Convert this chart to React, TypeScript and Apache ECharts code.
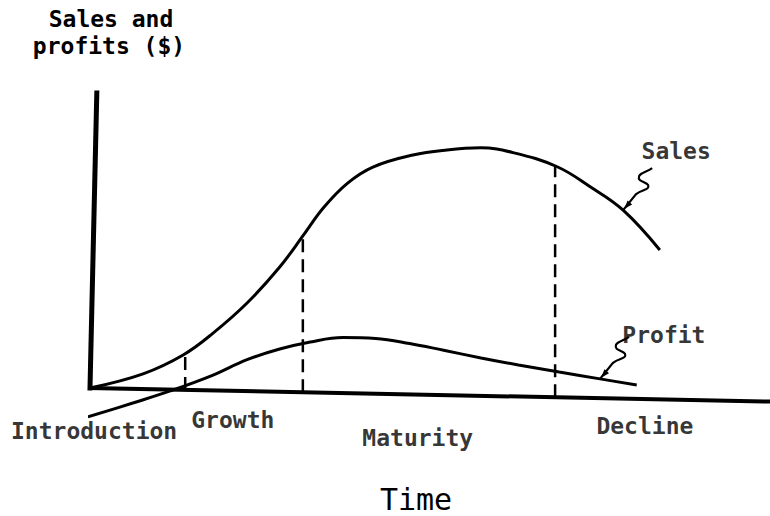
import React, { useEffect, useRef } from "react";
import * as echarts from "echarts";

// ---- data (time 0..100, value 0..100) ----
const salesTime = [0, 7.8, 13.7, 18.1, 23.1, 27.9, 31.6, 34.3, 37.8, 41.6, 47.5, 52.5, 57.4, 62.2, 68.7, 73.5, 78.4, 83.8];
const salesValue = [0, 4.8, 11.2, 18.6, 28.8, 41.0, 52.5, 61.0, 69.3, 74.9, 79.0, 80.7, 81.4, 79.8, 75.0, 68.3, 60.3, 46.8];

const profitTime = [-0.3, 6.3, 11.8, 18.1, 23.1, 27.9, 32.4, 37.2, 42.0, 47.0, 52.0, 57.5, 63.0, 69.0, 75.0, 80.4];
const profitValue = [-9.8, -5.1, -1.0, 4.4, 9.6, 13.2, 15.6, 17.1, 16.8, 15.1, 12.8, 10.2, 7.8, 5.4, 3.1, 1.0];

const phaseNames = ["Introduction", "Growth", "Maturity", "Decline"];
const phaseLabelTime = [0.6, 21.0, 48.2, 81.6];
const phaseLabelValue = [-14.7, -10.7, -16.9, -12.9];

const boundaryTime = [14.0, 31.3, 68.4];
const boundaryTop = [11.0, 52.0, 75.3];

const timeAxisStart = [0, 0];
const timeAxisEnd = [100, -4.6];
const valueAxisStart = [0, 0];
const valueAxisEnd = [1, 100];

const curveNames = ["Sales", "Profit"];
const curveLabelTime = [86.2, 84.4];
const curveLabelValue = [80.2, 17.8];
const leaderTime = [78.4, 75.0];
const leaderValue = [60.3, 3.1];

const yTitleLines = ["Sales and", "profits ($)"];
const xTitle = "Time";

const FONT = '"DejaVu Sans Mono", monospace';
const INK = "#000000";

let registered = false;
function ensureShapes() {
  if (registered) return;
  registered = true;
  const d = "M0 0 L13 -16 C19 -21 27 -20 25 -25 C23 -29 14 -28 16 -34 C18 -38 24 -38 29 -42";
  echarts.graphic.registerShape("leader", echarts.graphic.extendPath(d, {}) as any);
}

function axisValueAt(t: number) {
  return timeAxisStart[1] + ((timeAxisEnd[1] - timeAxisStart[1]) * (t - timeAxisStart[0])) / (timeAxisEnd[0] - timeAxisStart[0]);
}

export default function App() {
  const ref = useRef<HTMLDivElement>(null);

  useEffect(() => {
    document.body.style.margin = "0";
    ensureShapes();
    const chart = echarts.init(ref.current!, undefined, { renderer: "svg" });

    const lineBase = {
      type: "line",
      symbol: "none",
      clip: false,
      silent: true,
      animation: false,
    };

    const boundarySeries = boundaryTime.map((t, i) => ({
      ...lineBase,
      name: "boundary" + i,
      data: [
        [t, axisValueAt(t)],
        [t, boundaryTop[i]],
      ],
      lineStyle: { color: INK, width: 2.5, type: [13, 7] },
    }));

    const labelStyle = {
      show: true,
      position: "inside",
      align: "center",
      verticalAlign: "middle",
      fontFamily: FONT,
      fontSize: 23,
      fontWeight: "bold",
      color: INK,
    };

    const option: any = {
      animation: false,
      backgroundColor: "#ffffff",
      grid: { left: 90, right: 0, top: 93, bottom: 69 },
      xAxis: { type: "value", min: 0, max: 100, show: false },
      yAxis: { type: "value", min: -20, max: 100, show: false },
      series: [
        {
          ...lineBase,
          name: "Sales",
          smooth: 0.4,
          data: salesTime.map((t, i) => [t, salesValue[i]]),
          lineStyle: { color: INK, width: 3 },
        },
        {
          ...lineBase,
          name: "Profit",
          smooth: 0.4,
          data: profitTime.map((t, i) => [t, profitValue[i]]),
          lineStyle: { color: INK, width: 3 },
        },
        {
          ...lineBase,
          name: "timeAxis",
          data: [timeAxisStart, timeAxisEnd],
          lineStyle: { color: INK, width: 4, cap: "square" },
        },
        {
          ...lineBase,
          name: "valueAxis",
          data: [valueAxisStart, valueAxisEnd],
          lineStyle: { color: INK, width: 5, cap: "square" },
        },
        ...boundarySeries,
        {
          type: "scatter",
          name: "phases",
          silent: true,
          symbolSize: 0,
          data: phaseLabelTime.map((t, i) => [t, phaseLabelValue[i]]),
          label: { ...labelStyle, formatter: (p: any) => phaseNames[p.dataIndex] },
        },
        {
          type: "scatter",
          name: "curveNames",
          silent: true,
          symbolSize: 0,
          data: curveLabelTime.map((t, i) => [t, curveLabelValue[i]]),
          label: { ...labelStyle, formatter: (p: any) => curveNames[p.dataIndex] },
        },
      ],
    };

    chart.setOption(option);

    const leaders = leaderTime.map((t, i) => {
      const [px, py] = chart.convertToPixel({ gridIndex: 0 }, [t, leaderValue[i]]) as number[];
      return {
        type: "group",
        x: px,
        y: py,
        silent: true,
        children: [
          {
            type: "leader",
            style: { stroke: INK, fill: "none", lineWidth: 2.2 },
          },
          {
            type: "polygon",
            shape: { points: [[1, -1], [9, -5.5], [4.5, -9.5]] },
            style: { fill: INK },
          },
        ],
      };
    });

    chart.setOption({
      graphic: [
        {
          type: "text",
          x: 111,
          y: 18.5,
          silent: true,
          style: { text: yTitleLines[0], font: `bold 23px ${FONT}`, fill: INK, align: "center", verticalAlign: "middle" },
        },
        {
          type: "text",
          x: 109,
          y: 46,
          silent: true,
          style: { text: yTitleLines[1], font: `bold 23px ${FONT}`, fill: INK, align: "center", verticalAlign: "middle" },
        },
        {
          type: "text",
          x: 416,
          y: 499,
          silent: true,
          style: { text: xTitle, font: `30px ${FONT}`, fill: INK, align: "center", verticalAlign: "middle" },
        },
        ...leaders,
      ],
    });

    return () => chart.dispose();
  }, []);

  return <div ref={ref} style={{ width: 770, height: 516 }} />;
}
